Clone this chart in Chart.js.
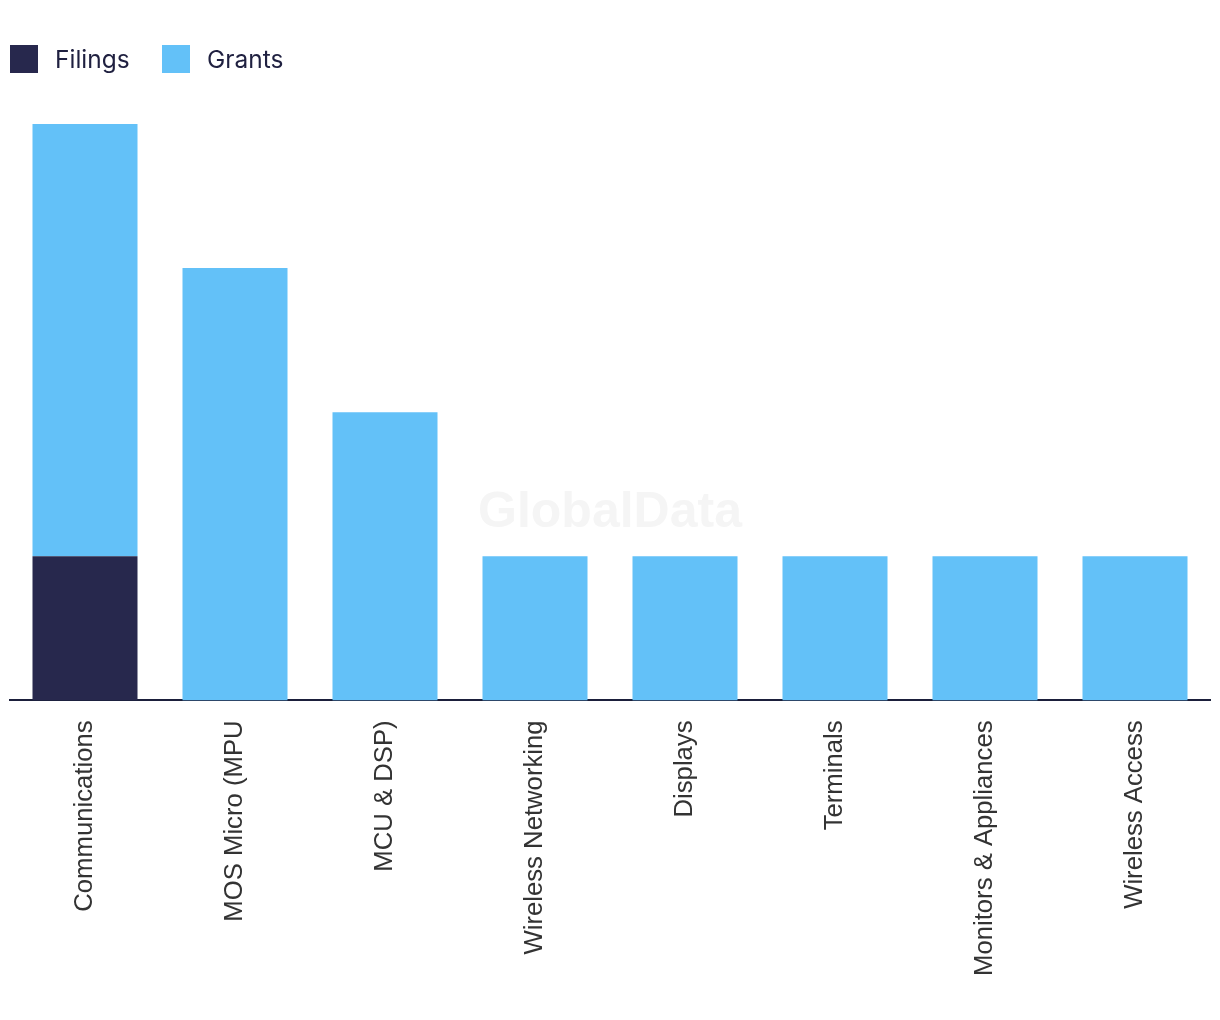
<!DOCTYPE html>
<html>
<head>
<meta charset="utf-8">
<script src="https://cdn.jsdelivr.net/npm/chart.js@4"></script>
<style>
  html, body { margin: 0; padding: 0; background: #fff; }
  #wrap { position: relative; width: 1220px; height: 1020px; }
  .legend-item { position: absolute; top: 45px; height: 28px; display: flex; align-items: center;
    font-family: Inter, "Noto Sans", sans-serif; font-size: 24.5px; color: #1f2040; }
  .legend-item span.box { width: 28px; height: 28px; margin-right: 17px; display: inline-block; }
</style>
</head>
<body>
<div id="wrap">
  <canvas id="chart"></canvas>
  <div id="legend"></div>
</div>
<script>
const categories = [
  'Communications',
  'MOS Micro (MPU',
  'MCU & DSP)',
  'Wireless Networking',
  'Displays',
  'Terminals',
  'Monitors & Appliances',
  'Wireless Access',
];
const filings = [1, 0, 0, 0, 0, 0, 0, 0];
const grants = [3, 3, 2, 1, 1, 1, 1, 1];

const seriesColors = { Filings: '#27284d', Grants: '#63c1f8' };

const watermark = {
  id: 'watermark',
  beforeDatasetsDraw(chart) {
    const { ctx, chartArea } = chart;
    ctx.save();
    ctx.font = 'bold 50px "Liberation Sans", Arial, sans-serif';
    ctx.fillStyle = '#f5f5f5';
    ctx.textAlign = 'center';
    ctx.textBaseline = 'middle';
    ctx.fillText('GlobalData', (chartArea.left + chartArea.right) / 2,
      chartArea.top + (chartArea.bottom - chartArea.top) * 0.675);
    ctx.restore();
  },
};

const ctx = document.getElementById('chart').getContext('2d');
const chart = new Chart(ctx, {
  type: 'bar',
  data: {
    labels: categories,
    datasets: [
      {
        label: 'Filings',
        data: filings,
        backgroundColor: seriesColors.Filings,
        categoryPercentage: 1,
        barPercentage: 0.7,
      },
      {
        label: 'Grants',
        data: grants,
        backgroundColor: seriesColors.Grants,
        categoryPercentage: 1,
        barPercentage: 0.7,
      },
    ],
  },
  options: {
    responsive: true,
    maintainAspectRatio: false,
    animation: false,
    layout: {
      padding: { left: 10, right: 10, top: 124, bottom: 24 },
    },
    plugins: {
      legend: { display: false },
      tooltip: { enabled: false },
    },
    scales: {
      x: {
        stacked: true,
        grid: { display: false, drawTicks: false },
        border: { display: true, color: '#1b1f3b', width: 2 },
        ticks: {
          minRotation: 90,
          maxRotation: 90,
          padding: 20,
          autoSkip: false,
          color: '#333',
          font: { family: '"Liberation Sans", Arial, sans-serif', size: 25.7 },
        },
      },
      y: {
        stacked: true,
        display: false,
        min: 0,
        max: 4,
      },
    },
  },
  plugins: [watermark],
});

// legend built from the chart's datasets
const legendEl = document.getElementById('legend');
const legendX = [10, 162];
chart.data.datasets.forEach((ds, i) => {
  const item = document.createElement('div');
  item.className = 'legend-item';
  item.style.left = legendX[i] + 'px';
  item.innerHTML = '<span class="box" style="background:' + ds.backgroundColor + '"></span>' + ds.label;
  legendEl.appendChild(item);
});
</script>
</body>
</html>
